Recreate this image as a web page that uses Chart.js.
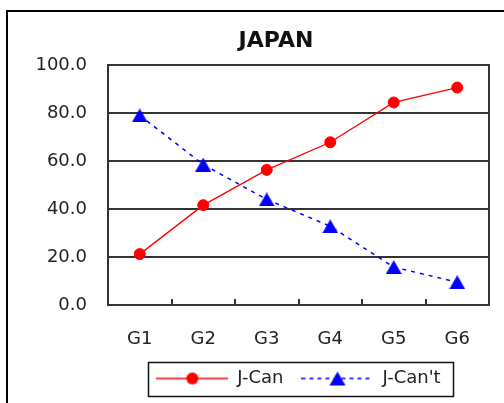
<!DOCTYPE html>
<html>
<head>
<meta charset="utf-8">
<title>JAPAN</title>
<script src="https://cdn.jsdelivr.net/npm/chart.js@4/dist/chart.umd.min.js"></script>
<style>
  html, body { margin: 0; padding: 0; background: #fff; overflow: hidden; }
  canvas { display: block; }
</style>
</head>
<body>
<canvas id="chart" width="520" height="420"></canvas>
<script>
// Categories, series and axis ticks
const categories = ['G1', 'G2', 'G3', 'G4', 'G5', 'G6'];
const jCan = [21.2, 41.6, 56.3, 67.8, 84.4, 90.6];
const jCant = [79.0, 58.5, 44.0, 32.8, 15.8, 9.5];
const yTickValues = [0, 20, 40, 60, 80, 100];
const seriesNames = ['J-Can', "J-Can't"];
const chartTitle = 'JAPAN';

const RED = '#ff0000';
const BLUE = '#0000ff';

// Filled triangle marker, centred on its bounding box
function triangleMarker(w, h, color) {
  const c = document.createElement('canvas');
  c.width = w; c.height = h;
  const g = c.getContext('2d');
  g.fillStyle = color;
  g.beginPath();
  g.moveTo(w / 2, 0);
  g.lineTo(w, h);
  g.lineTo(0, h);
  g.closePath();
  g.fill();
  return c;
}

// Legend sample: a short stretch of the series line with its marker in the middle
function legendSample(w, h, color, dash, lineWidth, drawMarker) {
  const c = document.createElement('canvas');
  c.width = w; c.height = h;
  const g = c.getContext('2d');
  g.strokeStyle = color;
  g.lineWidth = lineWidth;
  g.setLineDash(dash);
  g.beginPath();
  g.moveTo(0, h / 2);
  g.lineTo(w, h / 2);
  g.stroke();
  g.setLineDash([]);
  drawMarker(g, w / 2, h / 2);
  return c;
}

const triImg = triangleMarker(16, 14, BLUE);

const legendImages = [
  legendSample(72, 16, RED, [], 1.3, (g, x, y) => {
    g.fillStyle = RED;
    g.beginPath();
    g.arc(x, y, 6, 0, Math.PI * 2);
    g.fill();
  }),
  legendSample(72, 16, BLUE, [4, 4], 1.5, (g, x, y) => {
    g.drawImage(triImg, x - 8, y - 7);
  })
];

// Frame around the whole chart, plot box, inward category ticks and legend box
const framePlugin = {
  id: 'frames',
  beforeDatasetsDraw(chart) {
    const { ctx, chartArea: a, scales } = chart;
    ctx.save();
    ctx.strokeStyle = '#333';
    ctx.lineWidth = 2;
    ctx.strokeRect(a.left, a.top, a.right - a.left, a.bottom - a.top);
    const x = scales.x;
    ctx.beginPath();
    for (let i = 1; i < categories.length; i++) {
      const px = Math.round((x.getPixelForValue(i - 1) + x.getPixelForValue(i)) / 2);
      ctx.moveTo(px, a.bottom - 6);
      ctx.lineTo(px, a.bottom);
    }
    ctx.stroke();
    ctx.restore();
  },
  afterDraw(chart) {
    const { ctx } = chart;
    ctx.save();
    ctx.strokeStyle = '#000';
    ctx.lineWidth = 2;
    ctx.strokeRect(7, 11, chart.width + 10, chart.height + 10);
    const boxes = chart.legend.legendHitBoxes;
    if (boxes && boxes.length) {
      const first = boxes[0];
      const last = boxes[boxes.length - 1];
      const cy = first.top + first.height / 2;
      const left = Math.round(first.left - 8) + 0.5;
      const right = Math.round(last.left + last.width + 12) + 0.5;
      ctx.lineWidth = 1.5;
      ctx.strokeStyle = '#111';
      ctx.strokeRect(left, Math.round(cy - 17) + 0.5, right - left, 34);
    }
    ctx.restore();
  }
};

Chart.defaults.font.family = "'DejaVu Sans', sans-serif";
Chart.defaults.color = '#222';

new Chart(document.getElementById('chart'), {
  type: 'line',
  data: {
    labels: categories,
    datasets: [
      {
        label: seriesNames[0],
        data: jCan,
        borderColor: RED,
        backgroundColor: RED,
        borderWidth: 1.3,
        pointStyle: 'circle',
        pointRadius: 5.5,
        pointBorderWidth: 1,
        pointBackgroundColor: RED,
        pointBorderColor: RED,
        tension: 0,
        fill: false
      },
      {
        label: seriesNames[1],
        data: jCant,
        borderColor: BLUE,
        backgroundColor: BLUE,
        borderWidth: 1.5,
        borderDash: [4, 5],
        pointStyle: triImg,
        pointRadius: 7,
        tension: 0,
        fill: false
      }
    ]
  },
  options: {
    responsive: false,
    animation: false,
    devicePixelRatio: 1,
    layout: { padding: { left: 33, right: 1, top: 0, bottom: 22.5 } },
    plugins: {
      tooltip: { enabled: false },
      title: {
        display: true,
        text: chartTitle,
        color: '#111',
        font: { size: 22, weight: 'bold' },
        padding: { top: 28, bottom: 10.6 }
      },
      legend: {
        position: 'bottom',
        fullSize: false,
        labels: {
          usePointStyle: true,
          pointStyleWidth: 72,
          padding: 18,
          color: '#222',
          font: { size: 18 },
          generateLabels(chart) {
            const items = Chart.defaults.plugins.legend.labels.generateLabels(chart);
            items.forEach((it, i) => { it.pointStyle = legendImages[i]; });
            return items;
          }
        }
      }
    },
    scales: {
      x: {
        offset: true,
        grid: { display: false, offset: true },
        border: { display: false },
        ticks: { padding: 16, font: { size: 18 }, color: '#222', maxRotation: 0 },
        afterFit(scale) { scale.height = 46.5; }
      },
      y: {
        min: 0,
        max: 100,
        afterBuildTicks(scale) { scale.ticks = yTickValues.map(v => ({ value: v })); },
        grid: { color: '#333', lineWidth: 2, drawTicks: false },
        border: { display: false },
        ticks: {
          padding: 21,
          font: { size: 18 },
          color: '#222',
          callback: v => Number(v).toFixed(1)
        },
        afterFit(scale) { scale.width = 75; }
      },
      // empty margin on the right of the plot box
      yRight: {
        position: 'right',
        grid: { display: false },
        border: { display: false },
        ticks: { display: false },
        afterFit(scale) { scale.width = 30; }
      }
    }
  },
  plugins: [framePlugin]
});
</script>
</body>
</html>
